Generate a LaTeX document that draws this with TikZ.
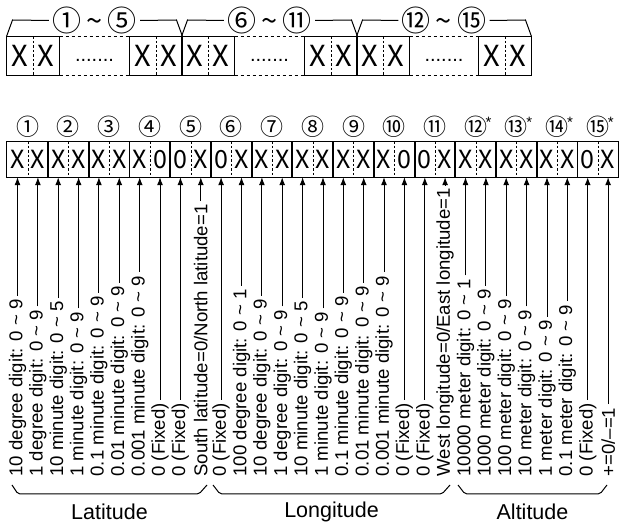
\documentclass[tikz,border=0pt]{standalone}
\usepackage{fontspec}
\setmainfont{Liberation Sans}
\newfontfamily\cjkfont{Noto Sans CJK JP}
\usetikzlibrary{arrows.meta}
\newcommand\tild{\hspace{5pt}\textasciitilde\hspace{5pt}}
\newcommand\starnote{\rlap{\hspace{-1.5pt}\raisebox{8pt}{\normalfont\fontsize{15}{15}\selectfont*}}}
\tikzset{
  tophalf/.style={minimum width=26pt,minimum height=38pt,inner sep=0pt,font=\cjkfont\fontsize{29}{29}\selectfont},
  half/.style={minimum width=20.37pt,minimum height=35pt,inner sep=0pt,font=\cjkfont\fontsize{25}{25}\selectfont},
  divider/.style={dash pattern=on 2.5pt off 2pt},
  gapline/.style={dash pattern=on 3pt off 3pt},
  group/.style={inner sep=3pt,font=\cjkfont\fontsize{29}{29}\selectfont},
  num/.style={inner sep=0pt,font=\cjkfont\fontsize{23}{23}\selectfont},
  lbl/.style={rotate=90,anchor=west,inner sep=0pt,font=\fontsize{18.6}{20}\selectfont},
  arr/.style={-{Latex[length=8pt,width=6pt]},shorten <=3pt},
  part/.style={font=\fontsize{21.5}{24}\selectfont},
  dotsnode/.style={inner sep=0pt,anchor=base,font=\fontsize{20}{20}\selectfont}
}
\begin{document}
\begin{tikzpicture}[x=1pt,y=-1pt,line width=1pt]
\useasboundingbox (0,0) rectangle (619,526);
% top row
\node[tophalf] (t1) at (20,56) {X};
\node[tophalf] (t2) at (46,56) {X};
\node[tophalf] (t3) at (143,56) {X};
\node[tophalf] (t4) at (169,56) {X};
\node[tophalf] (t5) at (195,56) {X};
\node[tophalf] (t6) at (221,56) {X};
\node[tophalf] (t7) at (318,56) {X};
\node[tophalf] (t8) at (344,56) {X};
\node[tophalf] (t9) at (370,56) {X};
\node[tophalf] (t10) at (396,56) {X};
\node[tophalf] (t11) at (492,56) {X};
\node[tophalf] (t12) at (518,56) {X};
\draw (t1.north west) rectangle (t2.south east);
\draw (t3.north west) rectangle (t4.south east);
\draw (t5.north west) rectangle (t6.south east);
\draw (t7.north west) rectangle (t8.south east);
\draw (t9.north west) rectangle (t10.south east);
\draw (t11.north west) rectangle (t12.south east);
\draw[divider] (t1.north east) -- (t1.south east);
\draw[divider] (t3.north east) -- (t3.south east);
\draw[divider] (t5.north east) -- (t5.south east);
\draw[divider] (t7.north east) -- (t7.south east);
\draw[divider] (t9.north east) -- (t9.south east);
\draw[divider] (t11.north east) -- (t11.south east);
\draw[gapline] (t2.north east) -- (t3.north west);
\draw[gapline] (t2.south east) -- (t3.south west);
\draw[gapline] (t6.north east) -- (t7.north west);
\draw[gapline] (t6.south east) -- (t7.south west);
\draw[gapline] (t10.north east) -- (t11.north west);
\draw[gapline] (t10.south east) -- (t11.south west);
\node[dotsnode] (e1) at (94.5,62) {.......};
\node[dotsnode] (e2) at (269.5,62) {.......};
\node[dotsnode] (e3) at (444,62) {.......};
\node[group] (g1) at (94.5,20.5) {①\tild⑤};
\node[group] (g2) at (269.5,20.5) {⑥\tild⑪};
\node[group] (g3) at (444,20.5) {⑫\tild⑮};
\draw (t1.north west) -- ++(6,-16.5) -- (g1.west);
\draw (t4.north east) -- ++(-6,-16.5) -- (g1.east);
\draw (t5.north west) -- ++(6,-16.5) -- (g2.west);
\draw (t8.north east) -- ++(-6,-16.5) -- (g2.east);
\draw (t9.north west) -- ++(6,-16.5) -- (g3.west);
\draw (t12.north east) -- ++(-6,-16.5) -- (g3.east);
% field numbers
\node[num] (n1) at (27.7,127) {①};
\node[num] (n2) at (68.4,127) {②};
\node[num] (n3) at (109.1,127) {③};
\node[num] (n4) at (149.9,127) {④};
\node[num] (n5) at (190.6,127) {⑤};
\node[num] (n6) at (231.3,127) {⑥};
\node[num] (n7) at (272.1,127) {⑦};
\node[num] (n8) at (312.8,127) {⑧};
\node[num] (n9) at (353.5,127) {⑨};
\node[num] (n10) at (394.2,127) {⑩};
\node[num] (n11) at (435,127) {⑪};
\node[num] (n12) at (475.7,127) {⑫\starnote};
\node[num] (n13) at (516.4,127) {⑬\starnote};
\node[num] (n14) at (557.2,127) {⑭\starnote};
\node[num] (n15) at (597.9,127) {⑮\starnote};
% data row
\node[half] (h1) at (17.5,159.2) {X};
\node[half] (h2) at (37.9,159.2) {X};
\node[half] (h3) at (58.2,159.2) {X};
\node[half] (h4) at (78.6,159.2) {X};
\node[half] (h5) at (98.9,159.2) {X};
\node[half] (h6) at (119.3,159.2) {X};
\node[half] (h7) at (139.7,159.2) {X};
\node[half] (h8) at (160,159.2) {0};
\node[half] (h9) at (180.4,159.2) {0};
\node[half] (h10) at (200.8,159.2) {X};
\node[half] (h11) at (221.1,159.2) {0};
\node[half] (h12) at (241.5,159.2) {X};
\node[half] (h13) at (261.9,159.2) {X};
\node[half] (h14) at (282.2,159.2) {X};
\node[half] (h15) at (302.6,159.2) {X};
\node[half] (h16) at (323,159.2) {X};
\node[half] (h17) at (343.3,159.2) {X};
\node[half] (h18) at (363.7,159.2) {X};
\node[half] (h19) at (384,159.2) {X};
\node[half] (h20) at (404.4,159.2) {0};
\node[half] (h21) at (424.8,159.2) {0};
\node[half] (h22) at (445.1,159.2) {X};
\node[half] (h23) at (465.5,159.2) {X};
\node[half] (h24) at (485.9,159.2) {X};
\node[half] (h25) at (506.2,159.2) {X};
\node[half] (h26) at (526.6,159.2) {X};
\node[half] (h27) at (547,159.2) {X};
\node[half] (h28) at (567.3,159.2) {X};
\node[half] (h29) at (587.7,159.2) {0};
\node[half] (h30) at (608.1,159.2) {X};
\draw (h1.north west) rectangle (h2.south east);
\draw (h3.north west) rectangle (h4.south east);
\draw (h5.north west) rectangle (h6.south east);
\draw (h7.north west) rectangle (h8.south east);
\draw (h9.north west) rectangle (h10.south east);
\draw (h11.north west) rectangle (h12.south east);
\draw (h13.north west) rectangle (h14.south east);
\draw (h15.north west) rectangle (h16.south east);
\draw (h17.north west) rectangle (h18.south east);
\draw (h19.north west) rectangle (h20.south east);
\draw (h21.north west) rectangle (h22.south east);
\draw (h23.north west) rectangle (h24.south east);
\draw (h25.north west) rectangle (h26.south east);
\draw (h27.north west) rectangle (h28.south east);
\draw (h29.north west) rectangle (h30.south east);
\draw[divider] (h1.north east) -- (h1.south east);
\draw[divider] (h3.north east) -- (h3.south east);
\draw[divider] (h5.north east) -- (h5.south east);
\draw[divider] (h7.north east) -- (h7.south east);
\draw[divider] (h9.north east) -- (h9.south east);
\draw[divider] (h11.north east) -- (h11.south east);
\draw[divider] (h13.north east) -- (h13.south east);
\draw[divider] (h15.north east) -- (h15.south east);
\draw[divider] (h17.north east) -- (h17.south east);
\draw[divider] (h19.north east) -- (h19.south east);
\draw[divider] (h21.north east) -- (h21.south east);
\draw[divider] (h23.north east) -- (h23.south east);
\draw[divider] (h25.north east) -- (h25.south east);
\draw[divider] (h27.north east) -- (h27.south east);
\draw[divider] (h29.north east) -- (h29.south east);
% labels
\node[lbl] (l1) at (17.5,477) {10 degree digit: 0 \textasciitilde{} 9};
\node[lbl] (l2) at (37.9,477) {1 degree digit: 0 \textasciitilde{} 9};
\node[lbl] (l3) at (58.2,477) {10 minute digit: 0 \textasciitilde{} 5};
\node[lbl] (l4) at (78.6,477) {1 minute digit: 0 \textasciitilde{} 9};
\node[lbl] (l5) at (98.9,477) {0.1 minute digit: 0 \textasciitilde{} 9};
\node[lbl] (l6) at (119.3,477) {0.01 minute digit: 0 \textasciitilde{} 9};
\node[lbl] (l7) at (139.7,477) {0.001 minute digit: 0 \textasciitilde{} 9};
\node[lbl] (l8) at (160,477) {0 (Fixed)};
\node[lbl] (l9) at (180.4,477) {0 (Fixed)};
\node[lbl] (l10) at (200.8,477) {South latitude=0/North latitude=1};
\node[lbl] (l11) at (221.1,477) {0 (Fixed)};
\node[lbl] (l12) at (241.5,477) {100 degree digit: 0 \textasciitilde{} 1};
\node[lbl] (l13) at (261.9,477) {10 degree digit: 0 \textasciitilde{} 9};
\node[lbl] (l14) at (282.2,477) {1 degree digit: 0 \textasciitilde{} 9};
\node[lbl] (l15) at (302.6,477) {10 minute digit: 0 \textasciitilde{} 5};
\node[lbl] (l16) at (323,477) {1 minute digit: 0 \textasciitilde{} 9};
\node[lbl] (l17) at (343.3,477) {0.1 minute digit: 0 \textasciitilde{} 9};
\node[lbl] (l18) at (363.7,477) {0.01 minute digit: 0 \textasciitilde{} 9};
\node[lbl] (l19) at (384,477) {0.001 minute digit: 0 \textasciitilde{} 9};
\node[lbl] (l20) at (404.4,477) {0 (Fixed)};
\node[lbl] (l21) at (424.8,477) {0 (Fixed)};
\node[lbl] (l22) at (445.1,477) {West longitude=0/East longitude=1};
\node[lbl] (l23) at (465.5,477) {10000 meter digit: 0 \textasciitilde{} 1};
\node[lbl] (l24) at (485.9,477) {1000 meter digit: 0 \textasciitilde{} 9};
\node[lbl] (l25) at (506.2,477) {100 meter digit: 0 \textasciitilde{} 9};
\node[lbl] (l26) at (526.6,477) {10 meter digit: 0 \textasciitilde{} 9};
\node[lbl] (l27) at (547,477) {1 meter digit: 0 \textasciitilde{} 9};
\node[lbl] (l28) at (567.3,477) {0.1 meter digit: 0 \textasciitilde{} 9};
\node[lbl] (l29) at (587.7,477) {0 (Fixed)};
\node[lbl] (l30) at (608.1,477) {+=0/\textendash=1};
\draw[arr] (l1.east) -- (h1.south);
\draw[arr] (l2.east) -- (h2.south);
\draw[arr] (l3.east) -- (h3.south);
\draw[arr] (l4.east) -- (h4.south);
\draw[arr] (l5.east) -- (h5.south);
\draw[arr] (l6.east) -- (h6.south);
\draw[arr] (l7.east) -- (h7.south);
\draw[arr] (l8.east) -- (h8.south);
\draw[arr] (l9.east) -- (h9.south);
\draw[arr] (l10.east) -- (h10.south);
\draw[arr] (l11.east) -- (h11.south);
\draw[arr] (l12.east) -- (h12.south);
\draw[arr] (l13.east) -- (h13.south);
\draw[arr] (l14.east) -- (h14.south);
\draw[arr] (l15.east) -- (h15.south);
\draw[arr] (l16.east) -- (h16.south);
\draw[arr] (l17.east) -- (h17.south);
\draw[arr] (l18.east) -- (h18.south);
\draw[arr] (l19.east) -- (h19.south);
\draw[arr] (l20.east) -- (h20.south);
\draw[arr] (l21.east) -- (h21.south);
\draw[arr] (l22.east) -- (h22.south);
\draw[arr] (l23.east) -- (h23.south);
\draw[arr] (l24.east) -- (h24.south);
\draw[arr] (l25.east) -- (h25.south);
\draw[arr] (l26.east) -- (h26.south);
\draw[arr] (l27.east) -- (h27.south);
\draw[arr] (l28.east) -- (h28.south);
\draw[arr] (l29.east) -- (h29.south);
\draw[arr] (l30.east) -- (h30.south);
% braces
\draw[rounded corners=2pt] (12,485) -- (18,494) -- (199,494) -- (207,485);
\draw[rounded corners=2pt] (213,485) -- (220,494) -- (442,494) -- (450,485);
\draw[rounded corners=2pt] (458,485) -- (465,494) -- (600,494) -- (607,485);
\node[part] (lat) at (109.5,512) {Latitude};
\node[part] (lon) at (331.5,512) {Longitude};
\node[part] (alt) at (532.5,512) {Altitude};
\end{tikzpicture}
\end{document}
